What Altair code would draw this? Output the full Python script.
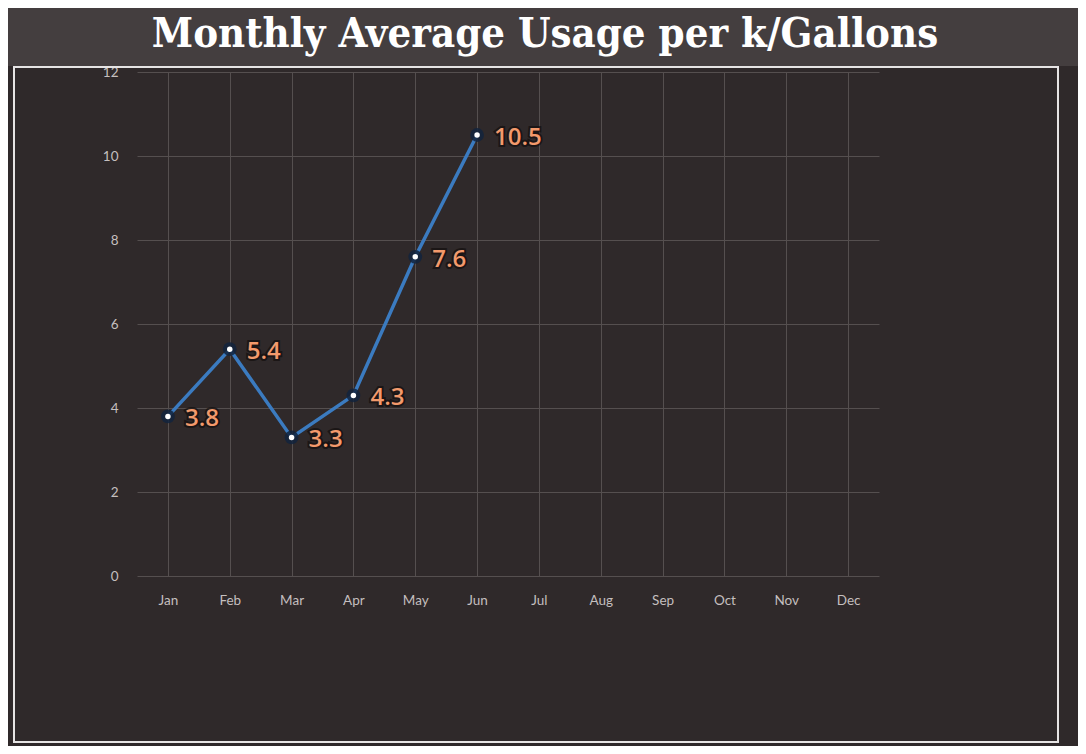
import altair as alt
import pandas as pd

months = ["Jan", "Feb", "Mar", "Apr", "May", "Jun",
          "Jul", "Aug", "Sep", "Oct", "Nov", "Dec"]
usage_months = ["Jan", "Feb", "Mar", "Apr", "May", "Jun"]
usage = [3.8, 5.4, 3.3, 4.3, 7.6, 10.5]
y_ticks = [0, 2, 4, 6, 8, 10, 12]

df = pd.DataFrame({"month": usage_months, "usage": usage})
df["label"] = [f"{v:.1f}" for v in usage]

x_enc = alt.X("month:N", sort=months,
              scale=alt.Scale(domain=months, paddingInner=0, paddingOuter=0),
              axis=alt.Axis(title=None, labelAngle=0, domain=False, ticks=False,
                            grid=True, bandPosition=0, labelPadding=17,
                            labelFont="Lato", labelFontSize=13.5, labelColor="#c4bfbf",
                            gridColor="#554f4f", gridWidth=1))
y_enc = alt.Y("usage:Q",
              scale=alt.Scale(domain=[0, 12], nice=False),
              axis=alt.Axis(title=None, values=y_ticks, domain=False, ticks=False,
                            grid=True, labelPadding=19,
                            labelFont="Lato", labelFontSize=13.5, labelColor="#c4bfbf",
                            gridColor="#554f4f", gridWidth=1))

deco = alt.Data(values=[{"a": 1}])
band = alt.Chart(deco).mark_rect(fill="#443e3f").encode(
    x=alt.value(-129), x2=alt.value(941), y=alt.value(-64), y2=alt.value(-6))
frame = alt.Chart(deco).mark_rect(
    fill=None, filled=False, stroke="#e6e4e4", strokeWidth=2
).encode(x=alt.value(-123), x2=alt.value(921), y=alt.value(-5), y2=alt.value(670))

base = alt.Chart(df)

line = base.mark_line(color="#3b7bc0", strokeWidth=3.5).encode(x=x_enc, y=y_enc)
halo = base.mark_point(filled=True, color="#12233d", opacity=0.85, size=190).encode(x=x_enc, y=y_enc)
dots = base.mark_point(filled=True, color="#ffffff", opacity=1, size=30).encode(x=x_enc, y=y_enc)
shadow = base.mark_text(align="left", baseline="middle", dx=17, dy=3,
                        font="Open Sans", fontSize=24, fontWeight=600,
                        color="#120e0e", stroke="#120e0e", strokeWidth=4,
                        strokeOpacity=0.7).encode(x=x_enc, y=y_enc, text="label:N")
labels = base.mark_text(align="left", baseline="middle", dx=17, dy=3,
                        font="Open Sans", fontSize=24, fontWeight=600,
                        color="#f39a6c").encode(x=x_enc, y=y_enc, text="label:N")

chart = alt.layer(band, frame, line, halo, dots, shadow, labels).properties(
    width=742, height=504,
    background="#2f292a",
    padding={"left": 129, "top": 64, "right": 199, "bottom": 170},
    autosize=alt.AutoSizeParams(type="none"),
    title=alt.TitleParams(
        "Monthly Average Usage per k/Gallons",
        font="DejaVu Serif Condensed", fontSize=41.5, fontWeight="bold", color="#ffffff",
        anchor="middle", dx=37, offset=-47, zindex=1
    )
).configure_view(stroke=None)

chart.save("out.html", embed_options={"renderer": "svg", "actions": False})
